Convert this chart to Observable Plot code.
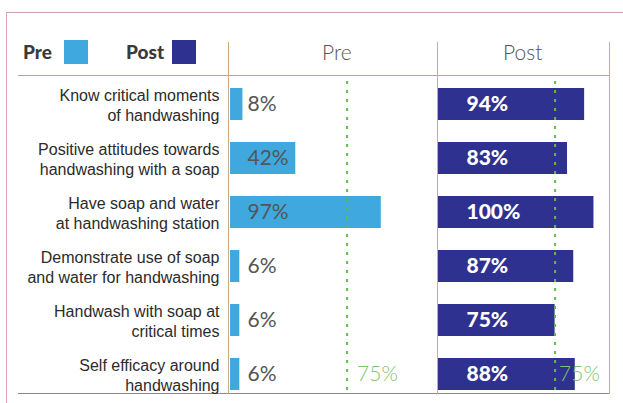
<!DOCTYPE html>
<html><head><meta charset="utf-8">
<script src="https://cdn.jsdelivr.net/npm/d3@7"></script>
<script src="https://cdn.jsdelivr.net/npm/@observablehq/plot@0.6"></script>
<style>
html,body{margin:0;padding:0;background:#fff;}
#wrap{position:relative;width:623px;height:403px;overflow:hidden;background:#fff;}
.ln{position:absolute;}
.hd{position:absolute;font-family:Lato,"Open Sans",sans-serif;}
#chart{position:absolute;left:0;top:0;}
</style></head><body>
<div id="wrap">
  <div class="ln" style="left:6px;top:12px;width:617px;height:1px;background:#c9a3a8"></div>
  <div class="ln" style="left:6px;top:12px;width:1px;height:391px;background:#e2a3b5"></div>
  <div class="ln" style="left:18px;top:75px;width:592px;height:1px;background:#b8ab7c"></div>
  <div class="ln" style="left:18px;top:393px;width:592px;height:1px;background:#8a8a8a"></div>
  <div class="ln" style="left:228px;top:42px;width:1px;height:352px;background:#c9a97f"></div>
  <div class="ln" style="left:437px;top:42px;width:1px;height:352px;background:#c2b48a"></div>
  <div class="ln" style="left:609px;top:42px;width:1px;height:352px;background:#c2b48a"></div>
  <div id="chart"></div>
</div>
<script>
const categories = [
  "Know critical moments\nof handwashing",
  "Positive attitudes towards\nhandwashing with a soap",
  "Have soap and water\nat handwashing station",
  "Demonstrate use of soap\nand water for handwashing",
  "Handwash with soap at\ncritical times",
  "Self efficacy around\nhandwashing"
];
const preValues = [8, 42, 97, 6, 6, 6];
const postValues = [94, 83, 100, 87, 75, 88];
const phases = ["Pre", "Post"];
const phaseColors = ["#3ea8df", "#2e3190"];
const target = 75;

const rows = [];
categories.forEach((c, i) => {
  rows.push({category: c, phase: "Pre", value: preValues[i]});
  rows.push({category: c, phase: "Post", value: postValues[i]});
});
const targetRows = phases.map(p => ({category: categories[categories.length - 1], phase: p, value: target}));

// header (legend + panel titles)
const wrap = document.getElementById("wrap");
function addText(txt, left, top, css) {
  const d = document.createElement("div");
  d.className = "hd";
  d.textContent = txt;
  d.style.left = left + "px";
  d.style.top = top + "px";
  Object.assign(d.style, css);
  wrap.appendChild(d);
}
function addSwatch(color, left) {
  const d = document.createElement("div");
  d.className = "ln";
  Object.assign(d.style, {left: left + "px", top: "40px", width: "24px", height: "24px", background: color});
  wrap.appendChild(d);
}
addText(phases[0], 23, 40, {fontSize: "19px", fontWeight: "900", color: "#3a3a3a"});
addSwatch(phaseColors[0], 64);
addText(phases[1], 126, 40, {fontSize: "19px", fontWeight: "900", color: "#3a3a3a"});
addSwatch(phaseColors[1], 172);
addText(phases[0], 322, 39, {fontSize: "21px", fontWeight: "300", color: "#555"});
addText(phases[1], 503, 39, {fontSize: "21px", fontWeight: "300", color: "#555"});

const chart = Plot.plot({
  width: 623, height: 403,
  marginLeft: 229, marginRight: 13, marginTop: 77, marginBottom: 2,
  style: {fontFamily: "'Liberation Sans', Arial, sans-serif", background: "transparent", overflow: "visible"},
  fx: {domain: phases, paddingInner: 0.177, paddingOuter: 0, axis: null, label: null},
  x: {domain: [0, 110], axis: null},
  y: {domain: categories, paddingInner: 0.4, paddingOuter: 0.2, label: null},
  color: {domain: phases, range: phaseColors},
  marks: [
    Plot.axisY({anchor: "left", tickSize: 0, tickPadding: 11, fontSize: 16, lineHeight: 1.25, fill: "#2b2b2b", label: null}),
    Plot.barX(rows, {x: "value", y: "category", fx: "phase", fill: "phase"}),
    Plot.ruleX([target], {stroke: "#5fbd4c", strokeWidth: 2, strokeDasharray: "3,6", insetTop: 4, insetBottom: 10}),
    Plot.text(rows.filter(d => d.phase === "Pre"), {x: 0, y: "category", fx: "phase", text: d => d.value + "%", dx: 17, textAnchor: "start", fill: "#555", fontSize: 21, fontFamily: "Lato", fontWeight: 400}),
    Plot.text(rows.filter(d => d.phase === "Post"), {x: 0, y: "category", fx: "phase", text: d => d.value + "%", dx: 28, textAnchor: "start", fill: "#fff", fontSize: 21, fontFamily: "Lato", fontWeight: 900}),
    Plot.text(targetRows.filter(d => d.phase === "Pre"), {x: "value", y: "category", fx: "phase", text: d => d.value + "%", dx: 10, textAnchor: "start", fill: "#7cc46f", fontSize: 21, fontFamily: "Lato", fontWeight: 300}),
    Plot.text(targetRows.filter(d => d.phase === "Post"), {x: "value", y: "category", fx: "phase", text: d => d.value + "%", dx: 4, textAnchor: "start", fill: "#7cc46f", fontSize: 21, fontFamily: "Lato", fontWeight: 300})
  ]
});
document.getElementById("chart").appendChild(chart);
</script>
</body></html>
